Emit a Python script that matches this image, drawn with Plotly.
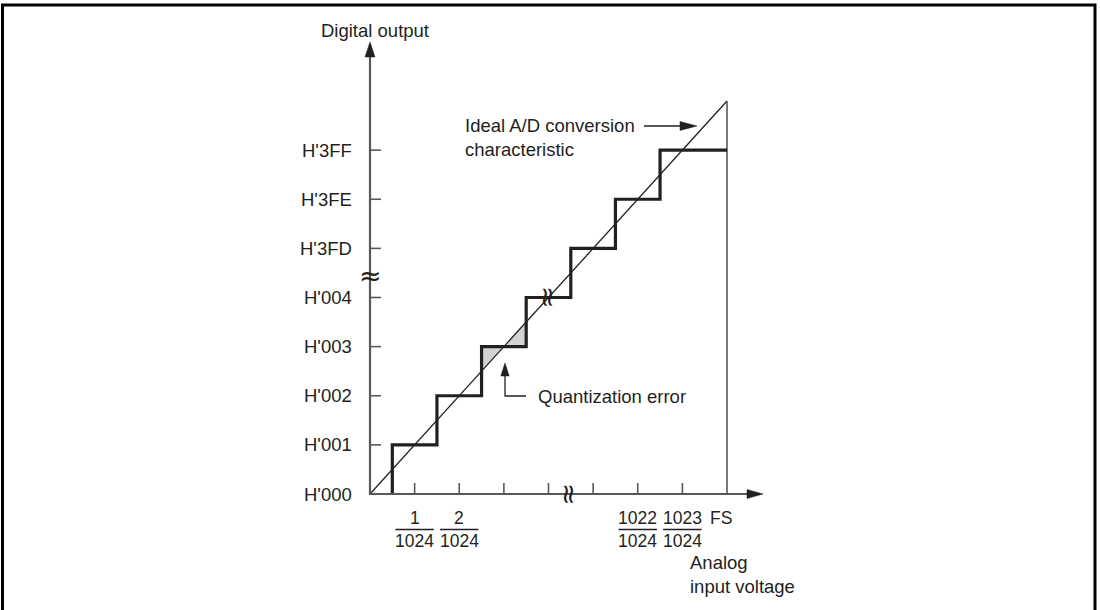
import plotly.graph_objects as go

# ── Data ──────────────────────────────────────────────────────────────────────
code_labels   = ["H'000", "H'001", "H'002", "H'003", "H'004", "H'3FD", "H'3FE", "H'3FF"]
code_levels   = [0, 1, 2, 3, 4, 5, 6, 7]
step_edges    = [0.5, 1.5, 2.5, 3.5, 4.5, 5.5, 6.5]      # input where the code steps up
fs_input      = 8
x_tick_pos    = [1, 2, 3, 4, 5, 6, 7]
x_label_pos   = [1, 2, 6, 7]
x_label_text  = ["1/1024", "2/1024", "1022/1024", "1023/1024"]
error_step    = 2                                        # index of the shaded step

# ── Geometry of the drawing (page pixels) ─────────────────────────────────────
W, H = 1100, 610
OX, OY = 370, 494          # origin
XU, YU = 44.625, 49.125    # pixels per LSB

INK   = "#231f20"
AXIS  = "#58595b"
SHADE = "#d1d3d4"
FONT  = "Liberation Sans, Arial, Helvetica, sans-serif"


def px_x(p):
    return (p - OX) / XU


def px_y(p):
    return (OY - p) / YU


fig = go.Figure()

# ── Quantization error shading ────────────────────────────────────────────────
e = step_edges[error_step]
lvl = code_levels[error_step + 1]
nxt = step_edges[error_step + 1]
for tx, ty in (([e, e, lvl, e], [e, lvl, lvl, e]),
               ([lvl, nxt, nxt, lvl], [lvl, lvl, nxt, lvl])):
    fig.add_trace(go.Scatter(x=tx, y=ty, mode="lines", fill="toself",
                             fillcolor=SHADE, line=dict(width=0),
                             showlegend=False, hoverinfo="skip"))

# ── Ideal characteristic ──────────────────────────────────────────────────────
fig.add_trace(go.Scatter(x=[0, fs_input], y=[0, fs_input], mode="lines",
                         line=dict(color=INK, width=1.3),
                         showlegend=False, hoverinfo="skip"))

# ── FS vertical ───────────────────────────────────────────────────────────────
fig.add_trace(go.Scatter(x=[fs_input, fs_input], y=[fs_input, 0], mode="lines",
                         line=dict(color=AXIS, width=1.6),
                         showlegend=False, hoverinfo="skip"))

# ── Staircase ─────────────────────────────────────────────────────────────────
sx, sy = [step_edges[0]], [code_levels[0]]
for i, edge in enumerate(step_edges):
    end = step_edges[i + 1] if i + 1 < len(step_edges) else fs_input
    sx += [edge, end]
    sy += [code_levels[i + 1], code_levels[i + 1]]
fig.add_trace(go.Scatter(x=sx, y=sy, mode="lines",
                         line=dict(color=INK, width=3.2),
                         showlegend=False, hoverinfo="skip"))

# ── Axes ──────────────────────────────────────────────────────────────────────
y_top = px_y(44)
x_end = px_x(760)
fig.add_trace(go.Scatter(x=[0, 0, x_end], y=[y_top, 0, 0], mode="lines",
                         line=dict(color=AXIS, width=2.2),
                         showlegend=False, hoverinfo="skip"))

shapes = []
for lv in code_levels[1:]:
    shapes.append(dict(type="line", xref="x", yref="y", x0=0, x1=11 / XU,
                       y0=lv, y1=lv, line=dict(color=AXIS, width=1.6)))
for xp in x_tick_pos:
    shapes.append(dict(type="line", xref="x", yref="y", x0=xp, x1=xp,
                       y0=0, y1=11 / YU, line=dict(color=AXIS, width=1.6)))


def head(x, y, dx, dy, length=16, half=4.8, color=INK):
    b1 = (-dx * length - dy * half, -dy * length + dx * half)
    b2 = (-dx * length + dy * half, -dy * length - dx * half)
    path = f"M0,0 L{b1[0]:.1f},{b1[1]:.1f} L{b2[0]:.1f},{b2[1]:.1f} Z"
    return dict(type="path", xref="x", yref="y", xsizemode="pixel",
                ysizemode="pixel", xanchor=x, yanchor=y, path=path,
                fillcolor=color, line=dict(color=color, width=0.5))


shapes.append(head(0, px_y(42), 0, 1, length=15, half=5))
shapes.append(head(px_x(763), 0, 1, 0, length=16, half=4.5))

# ideal characteristic pointer
ia_y = px_y(126)
fig.add_trace(go.Scatter(x=[px_x(644), px_x(690)], y=[ia_y, ia_y], mode="lines",
                         line=dict(color=INK, width=1.3),
                         showlegend=False, hoverinfo="skip"))
shapes.append(head(px_x(697), ia_y, 1, 0, length=17, half=4.5))

# quantization error pointer
q_x = (lvl + nxt) / 2 - 0.225
fig.add_trace(go.Scatter(x=[q_x, q_x, px_x(526)], y=[px_y(372), px_y(396), px_y(396)],
                         mode="lines", line=dict(color=INK, width=1.3),
                         showlegend=False, hoverinfo="skip"))
shapes.append(head(q_x, px_y(363), 0, 1, length=13, half=4.2))

# page frame
shapes.append(dict(type="rect", xref="paper", yref="paper",
                   x0=2.5 / W, x1=1095 / W, y0=-0.05, y1=1 - 5 / H,
                   line=dict(color="black", width=3)))

# ── Text ──────────────────────────────────────────────────────────────────────
ann = []
tf = dict(family=FONT, size=18.5, color=INK)
ff = dict(family=FONT, size=17.5, color=INK)

for lv, lab in zip(code_levels, code_labels):
    ann.append(dict(x=0, y=lv, text=lab, showarrow=False, xanchor="right",
                    xshift=-16, font=tf))

for xp, lab in zip(x_label_pos, x_label_text):
    num, den = lab.split("/")
    ann.append(dict(x=xp, y=px_y(518), text=num, showarrow=False, font=ff))
    ann.append(dict(x=xp, y=px_y(541), text=den, showarrow=False, font=ff))
    shapes.append(dict(type="line", xref="x", yref="y", x0=xp - 0.43, x1=xp + 0.43,
                       y0=px_y(529.5), y1=px_y(529.5),
                       line=dict(color=INK, width=1.3)))
ann.append(dict(x=fs_input, y=px_y(518), text="FS", showarrow=False,
                xshift=-6, font=ff))

ann.append(dict(x=px_x(688), y=px_y(574), text="Analog<br>input voltage",
                showarrow=False, xanchor="left", align="left", font=tf))
ann.append(dict(x=px_x(374.5), y=px_y(30), text="Digital output",
                showarrow=False, font=tf))
ann.append(dict(x=px_x(463), y=px_y(137.5), text="Ideal A/D conversion<br>characteristic",
                showarrow=False, xanchor="left", align="left", font=tf))
ann.append(dict(x=px_x(536), y=px_y(396), text="Quantization error",
                showarrow=False, xanchor="left", font=tf))

# break marks
bf = dict(family="DejaVu Sans", size=27, color=INK)
ann.append(dict(x=0, y=px_y(275), text="≈", showarrow=False, font=bf))
ann.append(dict(x=px_x(570), y=0, text="≈", showarrow=False, textangle=90, font=bf))
ann.append(dict(x=4, y=4, text="≈", showarrow=False, textangle=90, font=bf))

# ── Layout ────────────────────────────────────────────────────────────────────
fig.update_layout(
    width=W, height=H,
    margin=dict(l=0, r=0, t=0, b=0),
    xaxis=dict(range=[px_x(0), px_x(W)], visible=False, fixedrange=True),
    yaxis=dict(range=[px_y(H), px_y(0)], visible=False, fixedrange=True),
    plot_bgcolor="white", paper_bgcolor="white",
    shapes=shapes, annotations=ann,
    showlegend=False,
)

# drop the browser's default 8px body margin so the figure sits at the page corner
fig.write_html("out.html", config={"displayModeBar": False},
               post_script="document.body.style.margin='0';")
